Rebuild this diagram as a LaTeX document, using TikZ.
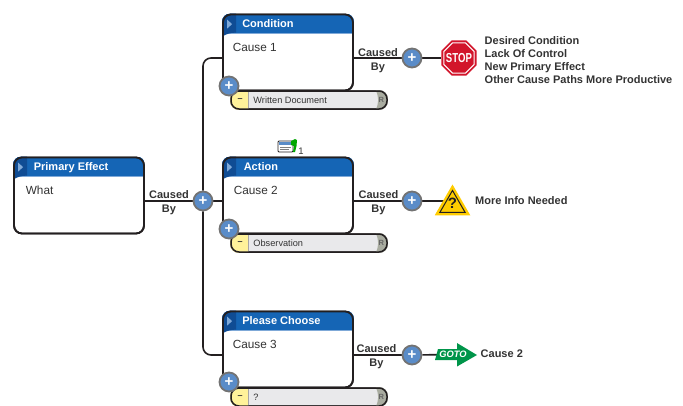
\documentclass[tikz,border=0pt]{standalone}
\usepackage{fontspec}
\usepackage{xcolor}
\setmainfont{Liberation Sans}
\usetikzlibrary{shapes.geometric, positioning, backgrounds}

\definecolor{headblue}{HTML}{1565B5}
\definecolor{headdark}{HTML}{0F4C94}
\definecolor{headpale}{HTML}{7FA9D8}
\definecolor{plusblue}{HTML}{5A8CC8}
\definecolor{linedark}{HTML}{231F20}
\definecolor{labeldark}{HTML}{333333}
\definecolor{pillyellow}{HTML}{FFF29A}
\definecolor{pillgrey}{HTML}{E9E9EB}
\definecolor{capgrey}{HTML}{A9ACA0}
\definecolor{stopred}{HTML}{D2152B}
\definecolor{warnyellow}{HTML}{FFCC00}
\definecolor{gotogreen}{HTML}{00954A}

\tikzset{
  causebox/.style={rectangle, draw=linedark, line width=1.8pt, rounded corners=8pt, minimum width=130pt, minimum height=76pt, inner sep=0pt},
  pillbox/.style={rectangle, draw=linedark, line width=1.5pt, rounded corners=8pt, minimum width=156pt, minimum height=18pt, inner sep=0pt},
  plusnode/.style={circle, draw=black!55, line width=1.8pt, fill=plusblue, text=white, minimum size=19pt, inner sep=0pt, font=\fontsize{15}{15}\selectfont\bfseries},
  connector/.style={draw=linedark, line width=1.6pt},
  headtext/.style={anchor=west, inner sep=0pt, text=white, text height=8pt, text depth=2pt, font=\fontsize{11}{12}\selectfont\bfseries},
  causetext/.style={anchor=west, inner sep=0pt, text=labeldark, font=\fontsize{11.8}{13}\selectfont},
  pilltext/.style={anchor=west, inner sep=0pt, text=labeldark, font=\fontsize{9.2}{11}\selectfont},
  boldtext/.style={inner sep=0pt, text=labeldark, align=left, font=\fontsize{11}{13}\selectfont\bfseries},
  causedby/.style={boldtext, align=center, font=\fontsize{11}{14}\selectfont\bfseries}
}

\begin{document}
\begin{tikzpicture}[x=1pt, y=-1pt]
\useasboundingbox (0,0) rectangle (683,405);

% plus buttons
\node[plusnode] (plusmain) at (203,201) {+};
\node[plusnode] (plusa) at (412,58) {+};
\node[plusnode] (plusb) at (412,201) {+};
\node[plusnode] (plusc) at (412,355) {+};

% evidence pills
\foreach \nm/\yy/\txt in {pilla/100/Written Document, pillb/243/Observation, pillc/397/?}
{
  \node[pillbox, fill=pillgrey] (\nm) at (309,\yy) {};
  \begin{scope}
    \clip[rounded corners=8pt] (\nm.south west) rectangle (\nm.north east);
    \fill[pillyellow] (\nm.south west) rectangle ([xshift=18pt]\nm.north west);
    \fill[capgrey] ([xshift=-12pt]\nm.south east) to[bend right=25] ([xshift=-12pt]\nm.north east) -- (\nm.north east) -- (\nm.south east) -- cycle;
  \end{scope}
  \draw[linedark!40, line width=.5pt] ([xshift=18pt]\nm.south west) -- ([xshift=18pt]\nm.north west);
  \node[pillbox] (\nm-edge) at (\nm) {};
  \node[pilltext] (\nm-text) at ([xshift=23pt]\nm.west) {\txt};
  \node[inner sep=0pt, text=labeldark, font=\fontsize{9}{9}\selectfont\bfseries] (\nm-minus) at ([xshift=10pt]\nm.west) {--};
  \node[inner sep=0pt, text=black!60, font=\fontsize{7.5}{8}\selectfont\bfseries] (\nm-cap) at ([xshift=-6.5pt]\nm.east) {R};
}

% cause boxes
\foreach \nm/\xx/\yy/\ttl/\txt/\tx/\cx in {effect/79/195.5/Primary Effect/What/20.5/12.5, condition/288/52.5/Condition/Cause 1/20/10.5, action/288/195.5/Action/Cause 2/21.5/11.5, choose/288/349.5/Please Choose/Cause 3/20/10.5}
{
  \node[causebox, fill=white] (\nm) at (\xx,\yy) {};
  \begin{scope}
    \clip[rounded corners=8pt] (\nm.south west) rectangle (\nm.north east);
    \fill[headpale] (\nm.north west) rectangle ([yshift=-20pt]\nm.north east);
    \fill[headblue] (\nm.north west) rectangle ([yshift=-19pt]\nm.north east);
    \fill[headdark] (\nm.north west) -- ([xshift=14pt]\nm.north west) -- ([xshift=14pt,yshift=-19pt]\nm.north west) to[bend right=15] ([yshift=-23pt]\nm.north west) -- cycle;
    \fill[headpale] ([xshift=5pt,yshift=-6pt]\nm.north west) -- ([xshift=10pt,yshift=-10.5pt]\nm.north west) -- ([xshift=5pt,yshift=-15pt]\nm.north west) -- cycle;
  \end{scope}
  \node[causebox] (\nm-edge) at (\nm) {};
  \node[headtext] (\nm-title) at ([xshift=\tx pt,yshift=-10.5pt]\nm.north west) {\ttl};
  \node[causetext] (\nm-text) at ([xshift=\cx pt,yshift=-33.5pt]\nm.north west) {\txt};
}

% branch plus buttons
\node[plusnode] (adda) at (229,86) {+};
\node[plusnode] (addb) at (229,229) {+};
\node[plusnode] (addc) at (229,382) {+};

% stop sign
\node[regular polygon, regular polygon sides=8, minimum size=38pt, inner sep=0pt, fill=stopred] (stopsign) at (459,58) {};
\node[regular polygon, regular polygon sides=8, minimum size=33pt, inner sep=0pt, draw=white, line width=1pt, fill=stopred] (stopface) at (stopsign) {};
\node[inner sep=0pt, text=white, font=\fontsize{13}{13}\selectfont\bfseries] (stopword) at (stopsign) {\scalebox{.74}[1]{STOP}};

% warning sign
\node[regular polygon, regular polygon sides=3, minimum size=41pt, inner sep=0pt, fill=warnyellow] (warnsign) at (452.5,205) {};
\node[regular polygon, regular polygon sides=3, minimum size=29pt, inner sep=0pt, draw=linedark, line width=1pt] (warnface) at (warnsign) {};
\node[inner sep=0pt, text=linedark, font=\fontsize{15}{15}\selectfont\bfseries] (warnmark) at (452.5,203.5) {?};

% goto sign
\fill[gotogreen] (435,360) -- (438,349) -- (457,349) -- (457,343) -- (477,355) -- (457,366.5) -- (457,360) -- cycle;
\node[inner sep=0pt, text=white, font=\fontsize{9.3}{10}\selectfont\bfseries\itshape] (gotosign) at (453,354.5) {GOTO};

% note icon
\fill[white, draw=linedark, line width=.8pt, rounded corners=1pt] (278,141) rectangle (293,152);
\fill[plusblue] (279,142) rectangle (292,145);
\draw[black!50, line width=.5pt] (280,147) -- (291,147) (280,149) -- (289,149);
\fill[green!65!black] (291,141) -- (295,139) -- (297,140) -- (296.5,146) -- (295,152) -- (293,152) -- (294,146) -- (291,145) -- cycle;
\node[inner sep=0pt, text=labeldark, font=\fontsize{9.5}{10}\selectfont] (notecount) at (301,151) {1};

% texts
\node[causedby] (labelmain) at (169,202.5) {Caused\\By};
\node[causedby] (labela) at (378,60.5) {Caused\\By};
\node[causedby] (labelb) at (378.5,203) {Caused\\By};
\node[causedby] (labelc) at (376.5,357) {Caused\\By};
\node[boldtext, anchor=west] (stoptext) at (484.5,60.5) {Desired Condition\\Lack Of Control\\New Primary Effect\\Other Cause Paths More Productive};
\node[boldtext, anchor=west] (warntext) at (475,200.5) {More Info Needed};
\node[boldtext, anchor=west] (gototext) at (480.5,354) {Cause 2};

% connectors
\begin{pgfonlayer}{background}
\draw[connector] (effect.east |- plusmain) -- (plusmain);
\draw[connector] (plusmain) -- (action.west |- plusmain);
\draw[connector, rounded corners=8pt] (plusmain) |- (condition.west |- plusa);
\draw[connector, rounded corners=8pt] (plusmain) |- (choose.west |- plusc);
\draw[connector] (condition.east |- plusa) -- (plusa);
\draw[connector] (action.east |- plusb) -- (plusb);
\draw[connector] (choose.east |- plusc) -- (plusc);
\draw[connector] (plusa) -- (stopsign);
\draw[connector] (plusb) -- (warnsign.center |- plusb);
\draw[connector] (plusc) -- (gotosign);
\end{pgfonlayer}
\end{tikzpicture}
\end{document}
